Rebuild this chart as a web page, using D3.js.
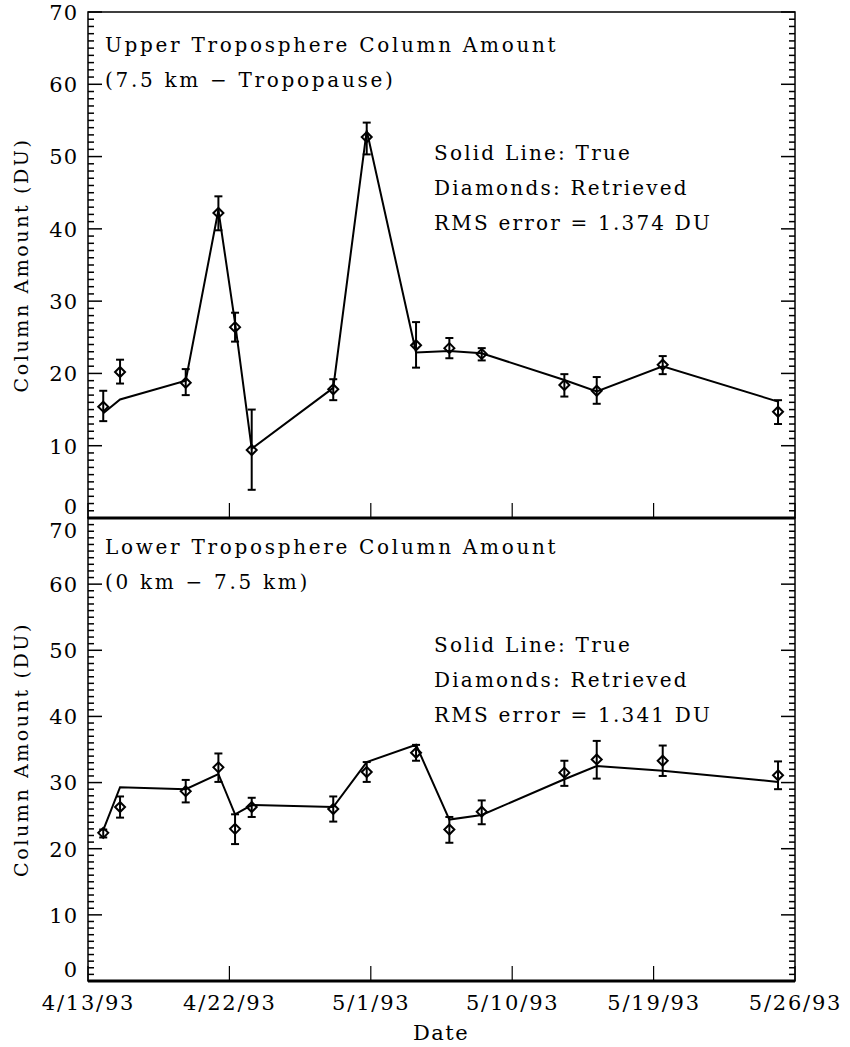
<!DOCTYPE html>
<html>
<head>
<meta charset="utf-8">
<script src="https://cdn.jsdelivr.net/npm/d3@7"></script>
<style>
  body { margin: 0; background: #fff; }
  text { font-family: "DejaVu Serif", serif; fill: #000; }
</style>
</head>
<body>
<div id="chart"></div>
<script>
// days since 4/13/93 for each retrieval
const days = [0.97, 2.04, 6.22, 8.3, 9.36, 10.42, 15.61, 17.74, 20.88, 23.0, 25.06, 30.32, 32.38, 36.58, 43.92];

// upper troposphere (7.5 km - tropopause)
const upperTrue = [14.5, 16.4, 19.0, 42.6, 27.0, 9.6, 18.0, 53.6, 22.9, 23.1, 22.8, 19.1, 17.5, 21.0, 16.1];
const upperRet = [15.4, 20.2, 18.7, 42.2, 26.4, 9.4, 17.8, 52.7, 23.9, 23.5, 22.7, 18.4, 17.6, 21.2, 14.7];
const upperLo = [13.4, 18.6, 17.0, 39.8, 24.4, 3.9, 16.3, 50.3, 20.8, 22.1, 21.8, 16.8, 15.8, 19.9, 13.0];
const upperHi = [17.6, 21.9, 20.6, 44.5, 28.4, 15.0, 19.2, 54.7, 27.1, 24.9, 23.5, 19.9, 19.5, 22.4, 16.3];

// lower troposphere (0 - 7.5 km)
const lowerTrue = [22.8, 29.3, 29.0, 31.3, 25.2, 26.6, 26.3, 33.1, 35.7, 24.4, 25.1, 30.5, 32.5, 31.8, 30.1];
const lowerRet = [22.4, 26.3, 28.7, 32.3, 23.0, 26.3, 26.0, 31.6, 34.5, 22.9, 25.6, 31.5, 33.5, 33.3, 31.1];
const lowerLo = [21.7, 24.7, 27.0, 30.1, 20.7, 24.8, 24.1, 30.1, 33.3, 20.9, 23.7, 29.5, 30.6, 31.0, 29.0];
const lowerHi = [22.9, 27.9, 30.4, 34.4, 25.2, 27.7, 27.9, 33.1, 35.7, 24.8, 27.3, 33.3, 36.3, 35.6, 33.2];

const xTickDays = [0, 9, 18, 27, 36, 45];
const xTickLabels = ["4/13/93", "4/22/93", "5/1/93", "5/10/93", "5/19/93", "5/26/93"];
const yTicks = [0, 10, 20, 30, 40, 50, 60, 70];

const width = 850, height = 1047;
const left = 88, right = 795;

const svg = d3.select("#chart").append("svg")
    .attr("width", width)
    .attr("height", height);

const x = d3.scaleLinear().domain([0, 45]).range([left, right]);

const panels = [
    {
        top: 12, bottom: 518,
        trueV: upperTrue, ret: upperRet, lo: upperLo, hi: upperHi,
        title: "Upper Troposphere Column Amount",
        sub: "(7.5 km \u2212 Tropopause)",
        rms: "RMS error = 1.374 DU",
        titleY: 52,
        legendY: 160
    },
    {
        top: 518, bottom: 981,
        trueV: lowerTrue, ret: lowerRet, lo: lowerLo, hi: lowerHi,
        title: "Lower Troposphere Column Amount",
        sub: "(0 km \u2212 7.5 km)",
        rms: "RMS error = 1.341 DU",
        titleY: 554,
        legendY: 652
    }
];

panels.forEach((p, pi) => {
    const y = d3.scaleLinear().domain([0, 70]).range([p.bottom, p.top]);

    // left axis labels
    const yLeft = d3.axisLeft(y).tickValues(yTicks).tickSize(0).tickPadding(10).tickFormat(d3.format("d"));
    const gl = svg.append("g").attr("transform", `translate(${left},0)`).call(yLeft);
    gl.select(".domain").remove();
    gl.selectAll("text")
        .attr("font-size", "21px")
        .attr("letter-spacing", "1px")
        .attr("dy", d => {
            // zero labels sit a bit above the axis; the lower 70 drops below the join
            if (d === 0) return "-0.2em";
            if (pi === 1 && d === 70) return "0.95em";
            return "0.35em";
        });

    // minor ticks every unit, both sides
    d3.range(0, 71).forEach(v => {
        const len = v % 10 === 0 ? 14 : 6;
        svg.append("line")
            .attr("x1", left).attr("x2", left + len)
            .attr("y1", y(v)).attr("y2", y(v))
            .attr("stroke", "#000").attr("stroke-width", 1.5);
        svg.append("line")
            .attr("x1", right - len).attr("x2", right)
            .attr("y1", y(v)).attr("y2", y(v))
            .attr("stroke", "#000").attr("stroke-width", 1.5);
    });

    // frame
    svg.append("rect")
        .attr("x", left).attr("y", p.top)
        .attr("width", right - left).attr("height", p.bottom - p.top)
        .attr("fill", "none").attr("stroke", "#000").attr("stroke-width", 1.5);
    svg.append("line")
        .attr("x1", left).attr("x2", right)
        .attr("y1", p.bottom).attr("y2", p.bottom)
        .attr("stroke", "#000").attr("stroke-width", 3);

    // date ticks along the bottom
    xTickDays.forEach(d => {
        svg.append("line")
            .attr("x1", x(d)).attr("x2", x(d))
            .attr("y1", p.bottom).attr("y2", p.bottom - 15)
            .attr("stroke", "#000").attr("stroke-width", 1.2);
    });

    // y title
    svg.append("text")
        .attr("transform", `translate(28,${(p.top + p.bottom) / 2}) rotate(-90)`)
        .attr("text-anchor", "middle")
        .attr("font-size", "19px")
        .attr("letter-spacing", "2.6px")
        .text("Column Amount (DU)");

    // panel labels
    svg.append("text").attr("x", 105).attr("y", p.titleY)
        .attr("font-size", "20px").attr("letter-spacing", "2.7px").text(p.title);
    svg.append("text").attr("x", 105).attr("y", p.titleY + 35)
        .attr("font-size", "20px").attr("letter-spacing", "2.7px").text(p.sub);

    ["Solid Line: True", "Diamonds: Retrieved", p.rms].forEach((t, i) => {
        svg.append("text")
            .attr("x", 434).attr("y", p.legendY + i * 35)
            .attr("font-size", "20px")
            .attr("letter-spacing", "2.2px")
            .text(t);
    });

    // true line
    const line = d3.line().x((d, i) => x(days[i])).y(d => y(d));
    svg.append("path")
        .datum(p.trueV)
        .attr("d", line)
        .attr("fill", "none")
        .attr("stroke", "#000")
        .attr("stroke-width", 2);

    // error bars
    const eb = svg.append("g").attr("stroke", "#000").attr("stroke-width", 2);
    days.forEach((d, i) => {
        const cx = x(d);
        eb.append("line").attr("x1", cx).attr("x2", cx).attr("y1", y(p.lo[i])).attr("y2", y(p.hi[i]));
        eb.append("line").attr("x1", cx - 4).attr("x2", cx + 4).attr("y1", y(p.lo[i])).attr("y2", y(p.lo[i]));
        eb.append("line").attr("x1", cx - 4).attr("x2", cx + 4).attr("y1", y(p.hi[i])).attr("y2", y(p.hi[i]));
    });

    // diamonds
    svg.append("g").selectAll("path")
        .data(p.ret)
        .join("path")
        .attr("d", (v, i) => {
            const cx = x(days[i]), cy = y(v), r = 5;
            return `M${cx},${cy - r}L${cx + r},${cy}L${cx},${cy + r}L${cx - r},${cy}Z`;
        })
        .attr("fill", "none")
        .attr("stroke", "#000")
        .attr("stroke-width", 2);
});

// x axis labels
const xAxis = d3.axisBottom(x).tickValues(xTickDays).tickSize(0).tickPadding(0)
    .tickFormat((d, i) => xTickLabels[i]);
const gx = svg.append("g").attr("transform", `translate(0,981)`).call(xAxis);
gx.select(".domain").remove();
gx.selectAll("text")
    .attr("y", 29)
    .attr("dy", 0)
    .attr("font-size", "21px")
    .attr("letter-spacing", "1.8px");

svg.append("text")
    .attr("x", 441)
    .attr("y", 1040)
    .attr("text-anchor", "middle")
    .attr("font-size", "21px")
    .attr("letter-spacing", "1.5px")
    .text("Date");
</script>
</body>
</html>
